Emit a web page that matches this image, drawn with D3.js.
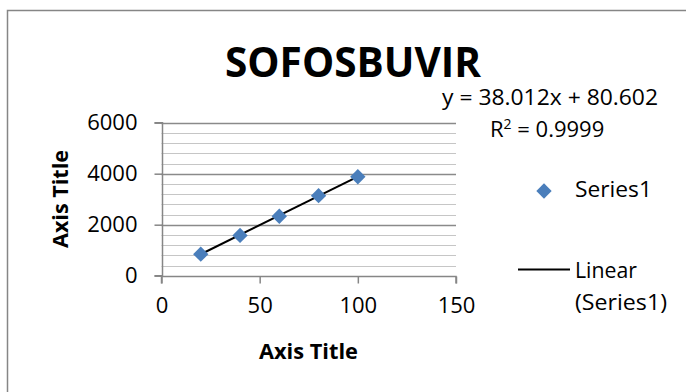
<!DOCTYPE html>
<html>
<head>
<meta charset="utf-8">
<script src="https://cdn.jsdelivr.net/npm/d3@7"></script>
<style>
  body { margin: 0; background: #fff; }
  svg text { font-family: "Open Sans", sans-serif; fill: #000; }
</style>
</head>
<body>
<div id="chart"></div>
<script>
const concentrations = [20, 40, 60, 80, 100];
const responses = [845, 1580, 2330, 3140, 3880];
const xTicks = [0, 50, 100, 150];
const yTicks = [0, 2000, 4000, 6000];
const slope = 38.012;
const intercept = 80.602;
const equationText = "y = 38.012x + 80.602";
const r2Text = "0.9999";

const W = 686, H = 392;
const plot = { left: 161.5, right: 456, top: 122.7, bottom: 275.7 };

const svg = d3.select("#chart")
  .append("svg")
  .attr("width", W)
  .attr("height", H);

// chart border (right and bottom edges fall outside the frame)
svg.append("rect")
  .attr("x", 7.5)
  .attr("y", 10.5)
  .attr("width", W + 100)
  .attr("height", H + 100)
  .attr("fill", "#fff")
  .attr("stroke", "#868686")
  .attr("stroke-width", 1.5);

const x = d3.scaleLinear().domain([0, 150]).range([plot.left, plot.right]);
const y = d3.scaleLinear().domain([0, 6000]).range([plot.bottom, plot.top]);

// minor gridlines every 400
const minor = d3.range(400, 6000, 400).filter(v => v % 2000 !== 0);
svg.selectAll(".minor")
  .data(minor)
  .enter()
  .append("line")
  .attr("x1", plot.left)
  .attr("x2", plot.right)
  .attr("y1", d => Math.round(y(d)) + 0.5)
  .attr("y2", d => Math.round(y(d)) + 0.5)
  .attr("stroke", "#c6c6c6")
  .attr("stroke-width", 1.2);

// major gridlines
svg.selectAll(".major")
  .data(yTicks.filter(d => d > 0))
  .enter()
  .append("line")
  .attr("x1", plot.left)
  .attr("x2", plot.right)
  .attr("y1", d => Math.round(y(d)) + 0.5)
  .attr("y2", d => Math.round(y(d)) + 0.5)
  .attr("stroke", "#8a8a8a")
  .attr("stroke-width", 1.3);

// axes
const xAxis = svg.append("g")
  .attr("transform", `translate(0, ${Math.round(y(0)) + 0.5})`)
  .call(d3.axisBottom(x).tickValues(xTicks).tickSize(7).tickPadding(10).tickFormat(d3.format("d")));
const yAxis = svg.append("g")
  .attr("transform", `translate(${Math.round(x(0)) + 0.5}, 0)`)
  .call(d3.axisLeft(y).tickValues(yTicks).tickSize(8).tickPadding(17).tickFormat(d3.format("d")));

[xAxis, yAxis].forEach(g => {
  g.select(".domain").attr("stroke", "#868686").attr("stroke-width", 1.5);
  g.selectAll(".tick line").attr("stroke", "#868686").attr("stroke-width", 1.5);
  g.selectAll("text")
    .style("font-size", "22px")
    .style("font-family", "'Open Sans', sans-serif")
    .attr("fill", "#000");
});
xAxis.select(".domain").attr("d", `M${x(0)},7V0H${x(150)}V7`);
yAxis.select(".domain").attr("d", `M-8,${y(6000)}H0V${y(0)}H-8`);
xAxis.selectAll("text").attr("dy", "0.9em");

// trendline
const trend = d3.extent(concentrations).map(c => ({ c, v: slope * c + intercept }));
svg.append("path")
  .datum(trend)
  .attr("fill", "none")
  .attr("stroke", "#000")
  .attr("stroke-width", 2)
  .attr("d", d3.line().x(d => x(d.c)).y(d => y(d.v)));

// points
const diamond = d3.symbol().type(d3.symbolDiamond2).size(150);
svg.selectAll(".pt")
  .data(concentrations.map((c, i) => ({ c, v: responses[i] })))
  .enter()
  .append("path")
  .attr("d", diamond)
  .attr("transform", d => `translate(${x(d.c)}, ${y(d.v)})`)
  .attr("fill", "#4a7ebb");

// title
svg.append("text")
  .attr("x", 353)
  .attr("y", 77)
  .attr("text-anchor", "middle")
  .attr("textLength", 256)
  .attr("lengthAdjust", "spacingAndGlyphs")
  .style("font-size", "41px")
  .style("font-weight", "bold")
  .text("SOFOSBUVIR");

// axis titles
svg.append("text")
  .attr("x", 308.5)
  .attr("y", 358.5)
  .attr("text-anchor", "middle")
  .attr("textLength", 99)
  .attr("lengthAdjust", "spacingAndGlyphs")
  .style("font-size", "22px")
  .style("font-weight", "bold")
  .text("Axis Title");

svg.append("text")
  .attr("transform", "translate(68, 199) rotate(-90)")
  .attr("text-anchor", "middle")
  .attr("textLength", 98)
  .attr("lengthAdjust", "spacingAndGlyphs")
  .style("font-size", "22px")
  .style("font-weight", "bold")
  .text("Axis Title");

// trendline label
svg.append("text")
  .attr("x", 442)
  .attr("y", 105)
  .attr("textLength", 216)
  .attr("lengthAdjust", "spacingAndGlyphs")
  .style("font-size", "22px")
  .text(equationText);

const r2 = svg.append("text")
  .attr("x", 490)
  .attr("y", 137)
  .style("font-size", "22px");
r2.append("tspan").text("R");
r2.append("tspan").attr("dy", -8).style("font-size", "14px").text("2");
r2.append("tspan").attr("dy", 8).text(" = " + r2Text);

// legend
svg.append("path")
  .attr("d", diamond)
  .attr("transform", "translate(544, 191)")
  .attr("fill", "#4a7ebb");

const legendText = [
  { t: "Series1", y: 197, w: 77 },
  { t: "Linear", y: 278, w: 62 },
  { t: "(Series1)", y: 310, w: 92 }
];
svg.selectAll(".legend-text")
  .data(legendText)
  .enter()
  .append("text")
  .attr("x", 575)
  .attr("y", d => d.y)
  .attr("textLength", d => d.w)
  .attr("lengthAdjust", "spacingAndGlyphs")
  .style("font-size", "22px")
  .text(d => d.t);

svg.append("line")
  .attr("x1", 518)
  .attr("x2", 570)
  .attr("y1", 269.5)
  .attr("y2", 269.5)
  .attr("stroke", "#000")
  .attr("stroke-width", 2);
</script>
</body>
</html>
